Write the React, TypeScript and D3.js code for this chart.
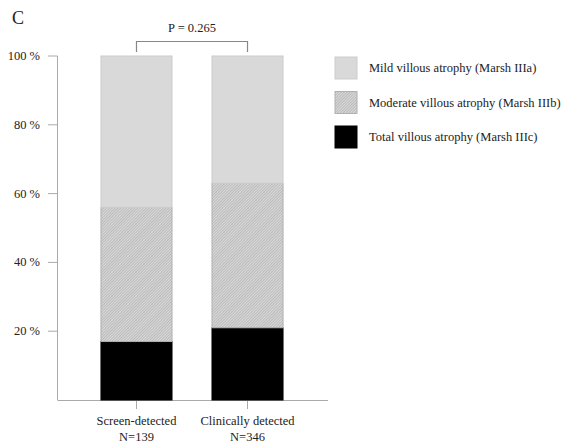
import React from "react";
import * as d3 from "d3";

// Proportion (%) of each atrophy grade per detection group
const groups = ["Screen-detected", "Clinically detected"];
const groupN = ["N=139", "N=346"];
const totalAtrophy = [17, 21]; // Marsh IIIc
const moderateAtrophy = [39, 42]; // Marsh IIIb
const mildAtrophy = [44, 37]; // Marsh IIIa
const yTicks = [20, 40, 60, 80, 100];
const legendLabels = [
  "Mild villous atrophy (Marsh IIIa)",
  "Moderate villous atrophy (Marsh IIIb)",
  "Total villous atrophy (Marsh IIIc)",
];
const pValueLabel = "P = 0.265";
const panelLetter = "C";

const W = 566;
const H = 446;
const FONT = "Liberation Serif, DejaVu Serif, Times New Roman, serif";

export default function App() {
  const y = d3.scaleLinear().domain([0, 100]).range([400, 56]);
  const x = d3.scaleBand<string>().domain(groups).range([57, 327]).paddingInner(0.36).paddingOuter(0.396);

  const rows = groups.map((g, i) => ({
    group: g,
    c: totalAtrophy[i],
    b: moderateAtrophy[i],
    a: mildAtrophy[i],
  }));
  const stack = d3.stack<any>().keys(["c", "b", "a"])(rows);
  const fills: Record<string, string> = { a: "#d9d9d9", b: "url(#hatch)", c: "#000" };
  const strokes: Record<string, string> = { a: "#cdcdcd", b: "#b0b0b0", c: "#000" };

  const bw = x.bandwidth();
  const cx0 = x(groups[0])! + bw / 2;
  const cx1 = x(groups[1])! + bw / 2;

  const legendFill = [fills.a, fills.b, fills.c];
  const legendStroke = [strokes.a, strokes.b, strokes.c];

  return (
    <svg width={W} height={H} style={{ position: "absolute", left: 0, top: 0, background: "#fff" }}>
      <defs>
        <pattern id="hatch" width="2" height="2" patternUnits="userSpaceOnUse" patternTransform="rotate(45)">
          <rect width="2" height="2" fill="#dadada" />
          <line x1="0" y1="0" x2="0" y2="2" stroke="#8a8a8a" strokeWidth="0.8" />
        </pattern>
      </defs>

      <text x={12} y={24} fontFamily={FONT} fontSize={18} fill="#222">
        {panelLetter}
      </text>

      {/* y axis */}
      <line x1={57.5} x2={57.5} y1={y(100)} y2={y(0)} stroke="#aaa" strokeWidth={1} />
      {yTicks.map((t) => (
        <g key={t}>
          <line x1={48} x2={57.5} y1={y(t)} y2={y(t)} stroke="#aaa" strokeWidth={1} />
          <text x={40} y={y(t) + 4} textAnchor="end" fontFamily={FONT} fontSize={12.5} fill="#222">
            {t} %
          </text>
        </g>
      ))}

      {/* x axis */}
      <line x1={57.5} x2={328} y1={400.5} y2={400.5} stroke="#aaa" strokeWidth={1} />
      {groups.map((g, i) => {
        const cx = x(g)! + bw / 2;
        return (
          <g key={g}>
            <line x1={cx} x2={cx} y1={400.5} y2={409} stroke="#aaa" strokeWidth={1} />
            <text x={cx} y={425} textAnchor="middle" fontFamily={FONT} fontSize={12.5} fill="#222">
              {g}
            </text>
            <text x={cx} y={441} textAnchor="middle" fontFamily={FONT} fontSize={12.5} fill="#222">
              {groupN[i]}
            </text>
          </g>
        );
      })}

      {/* stacked bars */}
      {stack.map((layer) =>
        layer.map((d, i) => (
          <rect
            key={layer.key + i}
            x={x(groups[i])!}
            y={y(d[1])}
            width={bw}
            height={y(d[0]) - y(d[1])}
            fill={fills[layer.key]}
            stroke={strokes[layer.key]}
            strokeWidth={1}
          />
        ))
      )}

      {/* significance bracket */}
      <path d={`M${cx0},52 V41.5 H${cx1} V52`} fill="none" stroke="#888" strokeWidth={1.2} />
      <text x={(cx0 + cx1) / 2} y={32} textAnchor="middle" fontFamily={FONT} fontSize={12.5} fill="#222">
        {pValueLabel}
      </text>

      {/* legend */}
      {legendLabels.map((lab, i) => {
        const top = 57 + i * 34.5;
        return (
          <g key={lab}>
            <rect x={335} y={top} width={22} height={22} fill={legendFill[i]} stroke={legendStroke[i]} strokeWidth={1} />
            <text x={369} y={top + 15} fontFamily={FONT} fontSize={12.5} fill="#222">
              {lab}
            </text>
          </g>
        );
      })}
    </svg>
  );
}
